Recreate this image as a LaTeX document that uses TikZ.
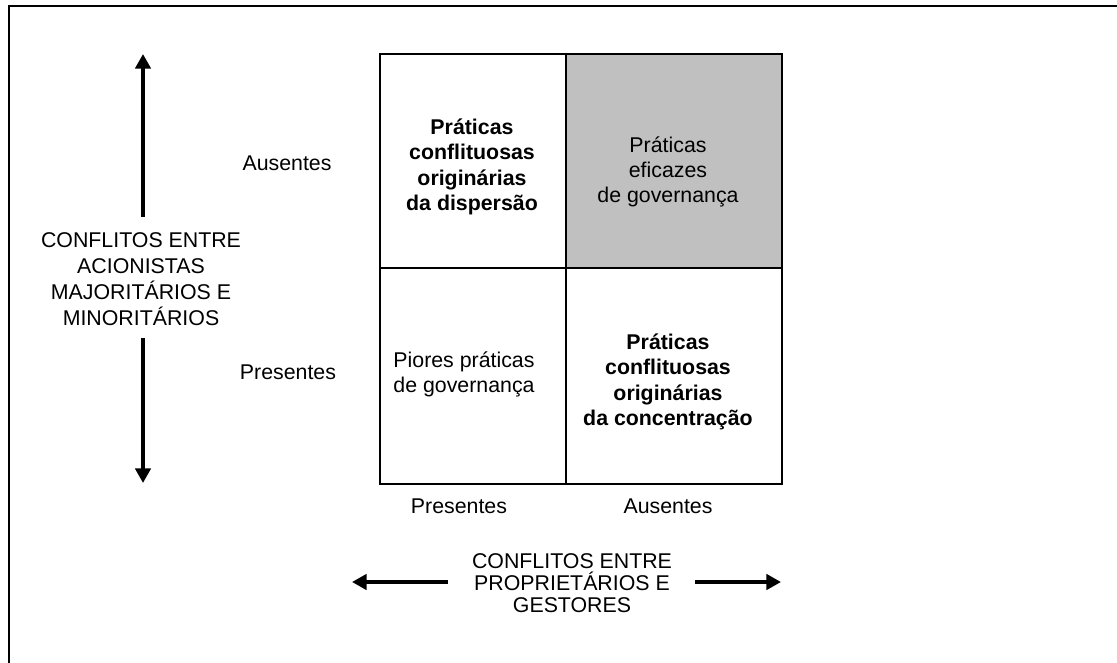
\documentclass[tikz,border=0pt]{standalone}
\usepackage{fontspec}
\setmainfont{Liberation Sans}
\usetikzlibrary{arrows.meta}
\begin{document}
\begin{tikzpicture}[x=0.75pt,y=-0.75pt,
  cell/.style={draw=black,line width=1.6pt,inner sep=0pt,minimum height=160.5pt},
  celltext/.style={align=center,font=\fontsize{16}{18.75}\selectfont,inner sep=0pt},
  axtext/.style={align=center,font=\fontsize{16}{18}\selectfont,inner sep=0pt},
  axisarrow/.style={line width=2.7pt,-{Triangle[length=11pt,width=11.5pt]}},
  frame/.style={line width=1.7pt}]
\useasboundingbox (0,0) rectangle (1117,663);
\draw[frame] (9,663) -- (9,6) -- (1117,6);
% cells
\node[cell,minimum width=139.5pt] (tl) at (473,161) {};
\node[cell,minimum width=162pt,fill={rgb,255:red,192;green,192;blue,192}] (tr) at (674,161) {};
\node[cell,minimum width=139.5pt,minimum height=162pt] (bl) at (473,376) {};
\node[cell,minimum width=162pt,minimum height=162pt] (br) at (674,376) {};
% cell texts
\node[celltext,font=\fontsize{16}{19}\selectfont\bfseries] (tltext) at (472,167) {Práticas\\conflituosas\\originárias\\da dispersão};
\node[celltext] (trtext) at (668,172) {Práticas\\eficazes\\de governança};
\node[celltext] (bltext) at (464,374) {Piores práticas\\de governança};
\node[celltext,font=\fontsize{16}{19}\selectfont\bfseries] (brtext) at (668,382) {Práticas\\conflituosas\\originárias\\da concentração};
% axis labels
\node[axtext] (ausL) at (287,163) {Ausentes};
\node[axtext] (presL) at (288,372) {Presentes};
\node[axtext] (presB) at (459,506) {Presentes};
\node[axtext] (ausB) at (668,506) {Ausentes};
% vertical axis
\node[axtext,font=\fontsize{16}{19.5}\selectfont] (vlab) at (141,279) {CONFLITOS ENTRE\\ACIONISTAS\\MAJORITÁRIOS E\\MINORITÁRIOS};
\coordinate (vtopstart) at (143,217);
\coordinate (vtop) at (143,54);
\coordinate (vbotstart) at (143,338);
\coordinate (vbot) at (143,483);
\draw[axisarrow] (vtopstart) -- (vtop);
\draw[axisarrow] (vbotstart) -- (vbot);
% horizontal axis
\node[axtext,font=\fontsize{16}{16.5}\selectfont] (hlab) at (572,583) {CONFLITOS ENTRE\\PROPRIETÁRIOS E\\GESTORES};
\coordinate (hleftstart) at (448,582);
\coordinate (hleft) at (352,582);
\coordinate (hrightstart) at (695,582);
\coordinate (hright) at (781,582);
\draw[axisarrow] (hleftstart) -- (hleft);
\draw[axisarrow] (hrightstart) -- (hright);
\end{tikzpicture}
\end{document}
